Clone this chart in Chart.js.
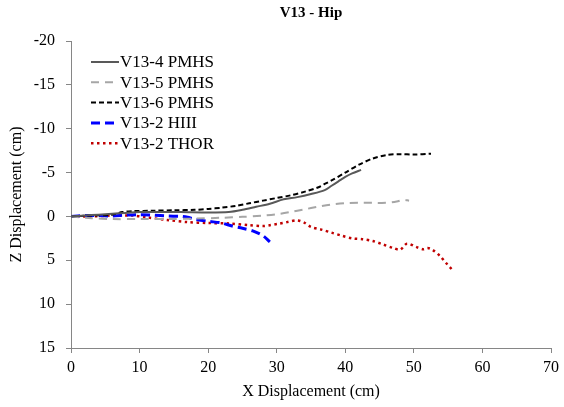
<!DOCTYPE html>
<html><head><meta charset="utf-8">
<script src="https://cdn.jsdelivr.net/npm/chart.js@4"></script>
<style>html,body{margin:0;padding:0;background:#fff}</style>
</head><body>
<canvas id="c" width="564" height="407"></canvas>
<script>
const chartTitle = 'V13 - Hip';
const xAxisTitle = 'X Displacement (cm)';
const yAxisTitle = 'Z Displacement (cm)';
const seriesNames = ['V13-4 PMHS', 'V13-5 PMHS', 'V13-6 PMHS', 'V13-2 HIII', 'V13-2 THOR'];

const v13_4_x = [0, 2, 4, 6, 8, 10, 13, 16, 20, 23, 25, 27, 29, 31, 33, 35, 37, 38, 39, 40, 41, 42.3];
const v13_4_y = [0, -0.1, -0.2, -0.3, -0.4, -0.5, -0.5, -0.5, -0.45, -0.5, -0.75, -1.1, -1.45, -1.95, -2.2, -2.55, -3.0, -3.5, -4.0, -4.5, -4.9, -5.3];

const v13_5_x = [0, 3, 6, 10, 14, 18, 22, 25, 28, 30, 32, 34, 36, 38, 40, 42, 44, 46, 47.5, 48.5, 49.3];
const v13_5_y = [0, 0.2, 0.3, 0.3, 0.3, 0.25, 0.15, 0.05, -0.1, -0.25, -0.5, -0.8, -1.1, -1.35, -1.5, -1.55, -1.55, -1.55, -1.7, -1.9, -1.8];

const v13_6_x = [0, 3, 6, 7.5, 9, 12, 15, 18, 20, 22, 24, 26, 28, 30, 32, 34, 36, 37, 38, 40, 42, 44, 46, 48, 50, 52.5];
const v13_6_y = [0, -0.1, -0.2, -0.5, -0.6, -0.65, -0.7, -0.75, -0.85, -1.0, -1.2, -1.5, -1.8, -2.1, -2.4, -2.8, -3.3, -3.7, -4.1, -5.0, -5.9, -6.6, -7.0, -7.1, -7.05, -7.15];

const hiii_x = [0, 2, 4, 6, 8, 10, 12, 14, 16, 17, 18, 20, 22, 23.5, 25, 26.5, 28, 29];
const hiii_y = [0, -0.1, -0.1, -0.05, -0.15, -0.2, -0.15, -0.05, 0, 0.1, 0.3, 0.55, 0.75, 1.1, 1.35, 1.65, 2.2, 2.9];

const thor_x = [0, 3, 6, 9, 11, 14, 17, 20, 23, 26, 28, 29, 30.2, 31.5, 33, 34, 35, 36.5, 38, 39.5, 41, 42.5, 44, 45.5, 47, 48, 49, 50.4, 51.4, 52, 52.7, 53.8, 54.8, 55.5];
const thor_y = [0, 0, -0.1, -0.1, 0.1, 0.4, 0.65, 0.75, 0.8, 1.0, 1.1, 1.0, 0.85, 0.65, 0.45, 0.7, 1.2, 1.5, 1.85, 2.2, 2.5, 2.6, 2.8, 3.2, 3.6, 3.8, 3.1, 3.5, 3.75, 3.6, 3.8, 4.5, 5.4, 6.0];

const xTicks = [0, 10, 20, 30, 40, 50, 60, 70];
const yTicks = [-20, -15, -10, -5, 0, 5, 10, 15];

function pts(xs, ys) { return xs.map((x, i) => ({x: x, y: ys[i]})); }

const FONT = "'Liberation Serif', 'Times New Roman', serif";
const axisGray = '#868686';

const styles = [
  {borderColor: '#595959', borderWidth: 2, borderDash: []},
  {borderColor: '#a6a6a6', borderWidth: 2, borderDash: [8, 6]},
  {borderColor: '#000000', borderWidth: 2, borderDash: [5, 3]},
  {borderColor: '#0000ff', borderWidth: 3, borderDash: [9, 5]},
  {borderColor: '#c00000', borderWidth: 2.5, borderDash: [2.5, 3.5]}
];
const seriesData = [pts(v13_4_x, v13_4_y), pts(v13_5_x, v13_5_y), pts(v13_6_x, v13_6_y), pts(hiii_x, hiii_y), pts(thor_x, thor_y)];

const datasets = seriesNames.map((n, i) => Object.assign({
  label: n, data: seriesData[i], showLine: true, pointRadius: 0, fill: false, tension: 0.3
}, styles[i]));

const insideLegendAndTitle = {
  id: 'insideLegendAndTitle',
  afterDraw(chart) {
    const ctx = chart.ctx;
    const ca = chart.chartArea;
    ctx.save();
    ctx.fillStyle = '#000';
    ctx.font = 'bold 15px ' + FONT;
    ctx.textAlign = 'center';
    ctx.textBaseline = 'middle';
    ctx.fillText(chartTitle, (ca.left + ca.right) / 2, 13);
    chart.data.datasets.forEach((ds, i) => {
      const y = 62 + i * 20.3;
      ctx.strokeStyle = ds.borderColor;
      ctx.lineWidth = ds.borderWidth;
      ctx.setLineDash(ds.borderDash);
      ctx.beginPath();
      ctx.moveTo(91, y);
      ctx.lineTo(119, y);
      ctx.stroke();
      ctx.setLineDash([]);
      ctx.fillStyle = '#000';
      ctx.font = '17px ' + FONT;
      ctx.textBaseline = 'middle';
      ctx.textAlign = 'left';
      ctx.fillText(ds.label, 120, y + 1);
    });
    ctx.restore();
  }
};

new Chart(document.getElementById('c'), {
  type: 'scatter',
  data: {datasets: datasets},
  plugins: [insideLegendAndTitle],
  options: {
    responsive: false,
    animation: false,
    layout: {padding: {left: 0, right: 12, top: 41, bottom: 0}},
    plugins: {
      legend: {display: false},
      tooltip: {enabled: false},
      title: {display: false}
    },
    scales: {
      x: {
        type: 'linear', min: 0, max: 70,
        afterFit(s) { s.height = 59; },
        afterBuildTicks(s) { s.ticks = xTicks.map(v => ({value: v})); },
        grid: {drawOnChartArea: false, drawTicks: true, tickLength: 5, color: axisGray},
        border: {display: true, color: axisGray, width: 1},
        ticks: {color: '#000', font: {family: FONT, size: 16}, padding: 5, maxRotation: 0},
        title: {display: true, text: xAxisTitle, color: '#000', font: {family: FONT, size: 16}, padding: {top: 0, bottom: 6}}
      },
      y: {
        type: 'linear', min: -20, max: 15, reverse: true,
        afterFit(s) { s.width = 71; },
        afterBuildTicks(s) { s.ticks = yTicks.map(v => ({value: v})); },
        grid: {drawOnChartArea: false, drawTicks: true, tickLength: 5, color: axisGray},
        border: {display: true, color: axisGray, width: 1},
        ticks: {color: '#000', font: {family: FONT, size: 16}, padding: 11},
        title: {display: true, text: yAxisTitle, color: '#000', font: {family: FONT, size: 16}, padding: {top: 7.5, bottom: 0}}
      }
    }
  }
});
</script>
</body></html>
